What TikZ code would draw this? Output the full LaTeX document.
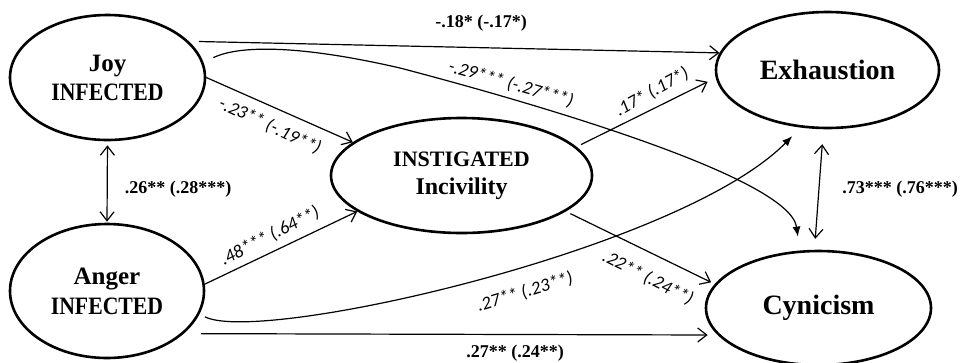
\documentclass[tikz,border=0pt]{standalone}
\usepackage{fontspec}
\setmainfont{Liberation Serif}
\newfontfamily\labfont{Carlito}
\usepackage{graphicx}
\usetikzlibrary{shapes.geometric,arrows.meta}
\begin{document}
\begin{tikzpicture}[x=1pt,y=-1pt,
  ell/.style={draw, ellipse, line width=2.6pt, inner sep=0pt, align=center},
  con/.style={line width=1.2pt, -{Straight Barb[length=9pt,width=14pt]}},
  dcon/.style={line width=1.2pt, {Straight Barb[length=9pt,width=14pt]}-{Straight Barb[length=9pt,width=14pt]}},
  ccon/.style={line width=1.2pt, -{Latex[length=10pt,width=8pt]}},
  blab/.style={inner sep=0pt, font=\bfseries\fontsize{18}{20}\selectfont},
  ilab/.style={inner sep=0pt, font=\labfont\itshape\fontsize{18.5}{20}\selectfont}
]
\useasboundingbox (0,0) rectangle (965,362);
\fill[white] (0,0) rectangle (965,362);

% nodes
\node[ell, minimum width=195pt, minimum height=125pt,
      font=\bfseries\fontsize{25}{29}\selectfont] (joy) at (107.5,77.5)
      {Joy\\\scalebox{0.87}[1]{INFECTED}};
\node[ell, minimum width=194pt, minimum height=134pt,
      font=\bfseries\fontsize{25}{30}\selectfont] (anger) at (107,291)
      {Anger\\\scalebox{0.87}[1]{INFECTED}};
\node[ell, minimum width=261pt, minimum height=115pt,
      font=\bfseries\fontsize{23}{28}\selectfont] (inst) at (461.5,175.5)
      {\fontsize{22}{28}\selectfont INSTIGATED\\\fontsize{24}{28}\selectfont Incivility};
\node[ell, minimum width=223pt, minimum height=116pt,
      font=\bfseries\fontsize{28}{30}\selectfont] (exh) at (827.5,70) {Exhaustion};
\node[ell, minimum width=225pt, minimum height=114pt,
      font=\bfseries\fontsize{28}{30}\selectfont] (cyn) at (818.5,308) {Cynicism};

% connectors
\draw[con, shorten <=10pt] (joy.24) -- (exh.171);
\draw[ccon, shorten <=11pt, shorten >=14pt] (joy.9) .. controls (240,45) and (300,45) .. (400,68)
      .. controls (560,110) and (790,180) .. (cyn.108);
\draw[con] (joy.0) -- (inst.163);
\draw[dcon, shorten <=4pt, shorten >=1pt] (joy.south) -- (anger.north);
\draw[con] (anger.4) -- (inst.199);
\draw[ccon, shorten <=6pt, shorten >=12pt] (anger.-14) .. controls (260,345) and (680,250) .. (exh.245);
\draw[con, shorten <=17pt, shorten >=10pt] (anger.-29) -- (cyn.195);
\draw[con, shorten <=5pt, shorten >=9pt] (inst.14) -- (exh.184);
\draw[con, shorten <=5pt, shorten >=4pt] (inst.-19) -- (cyn.167);
\draw[dcon, shorten <=15pt, shorten >=11pt] (exh.266) -- (cyn.94);

% labels
\node[blab] (l1) at (481,23) {-.18* (-.17*)};
\node[blab] (l4) at (178,189) {.26** (.28***)};
\node[blab] (l7) at (515,353) {.27** (.24**)};
\node[blab] (l10) at (900,189) {.73*** (.76***)};
\node[ilab, rotate=-25] (l3) at (270,126) {-.23** (-.19**)};
\node[ilab, rotate=-16] (l2) at (511,84) {-.29*** (-.27***)};
\node[ilab, rotate=27] (l5) at (270,236) {.48*** (.64**)};
\node[ilab, rotate=29] (l8) at (652,92) {.17* (.17*)};
\node[ilab, rotate=17] (l6) at (525,292) {.27** (.23**)};
\node[ilab, rotate=-27] (l9) at (648,278) {.22** (.24**)};
\end{tikzpicture}
\end{document}
